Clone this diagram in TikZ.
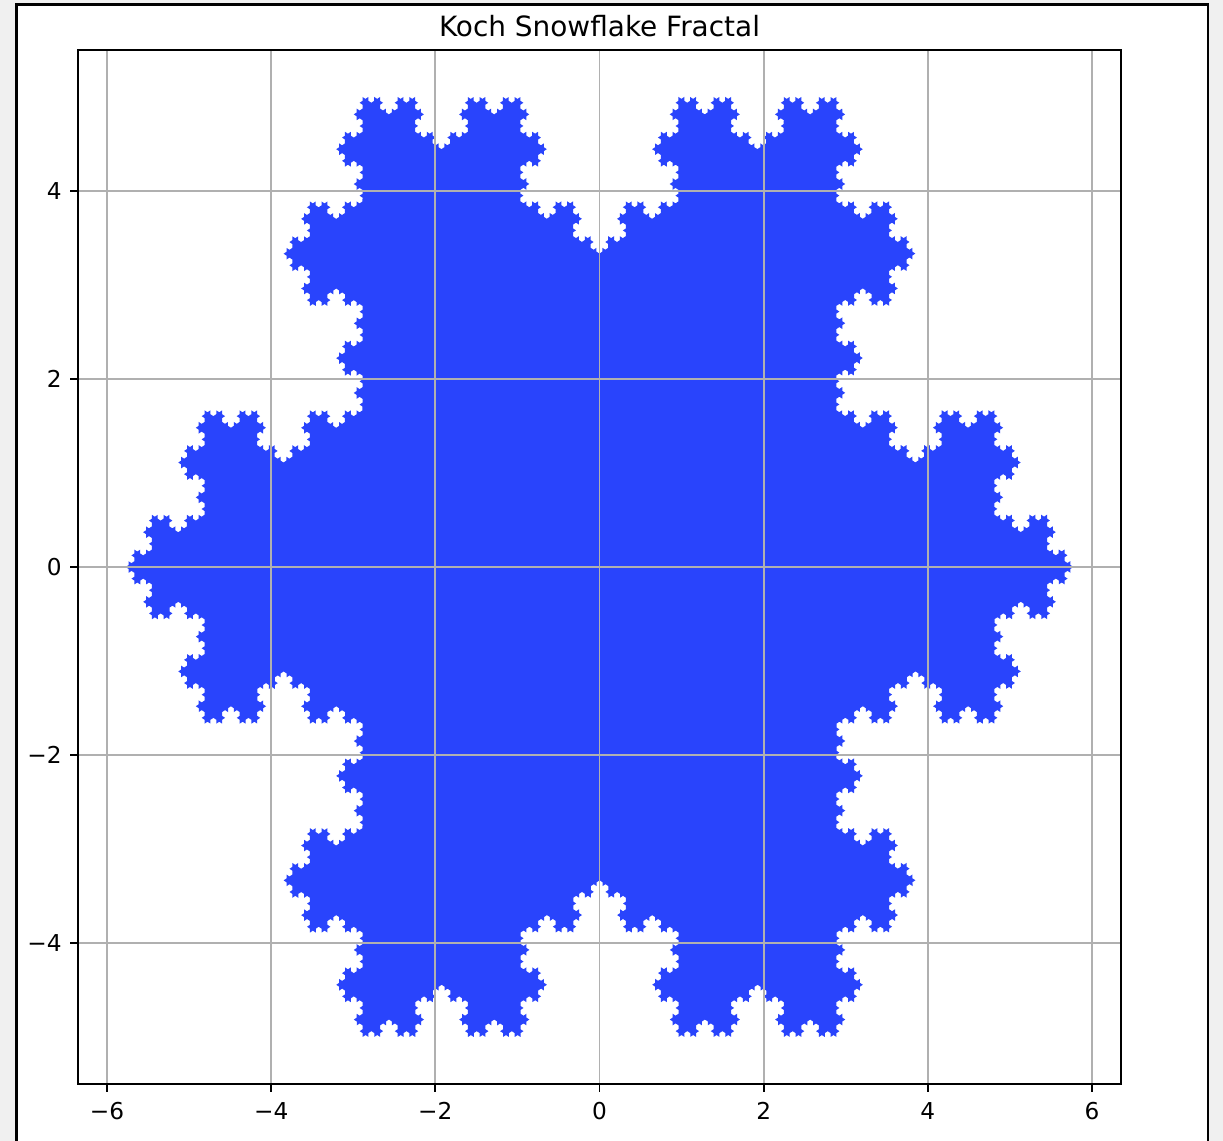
\documentclass[tikz,border=0pt]{standalone}
\usepackage{fontspec}
\setmainfont{DejaVu Sans}
\usetikzlibrary{decorations.fractals}
\definecolor{kblue}{RGB}{41,68,252}
\definecolor{gridgray}{HTML}{B0B0B0}
\definecolor{bggray}{HTML}{F0F0F0}
\tikzset{
  gridline/.style={gridgray,line width=0.85pt},
  spine/.style={black,line width=0.9pt},
  ticklabel/.style={inner sep=0pt,font=\fontsize{11.15pt}{13pt}\selectfont},
}
\begin{document}
\begin{tikzpicture}
\useasboundingbox (0,0) rectangle (587.04pt,547.68pt);
\fill[bggray] (0,0) rectangle (587.04pt,547.68pt);
\filldraw[fill=white,draw=black,line width=1pt] (7.92pt,-5pt) rectangle (579.9pt,545.52pt);
% snowflake (uniform units, stretched afterwards like the plot)
\begin{scope}[transform canvas={shift={(287.76pt,275.52pt)},yscale=1.14518}]
\fill[kblue,x=39.4pt,y=39.4pt] decorate[decoration=Koch snowflake]{decorate[decoration=Koch snowflake]{decorate[decoration=Koch snowflake]{decorate[decoration=Koch snowflake]{decorate[decoration=Koch snowflake]{
  (5.7735,0) -- (-2.88675,-5) -- (-2.88675,5) -- (5.7735,0) }}}}};
\end{scope}
\begin{scope}[shift={(287.76pt,275.52pt)},x=39.4pt,y=45.12pt]
\foreach \gx in {-6,-4,...,6} \draw[gridline] (\gx,-5.5) -- (\gx,5.5);
\foreach \gy in {-4,-2,0,2,4} \draw[gridline] (-6.3509,\gy) -- (6.3509,\gy);
\draw[spine] (-6.3509,-5.5) rectangle (6.3509,5.5);
\foreach \gx/\lab [count=\i] in {-6/−6,-4/−4,-2/−2,0/0,2/2,4/4,6/6} {
  \draw[spine] (\gx,-5.5) -- ++(0,-3.9pt);
  \node[ticklabel,anchor=base,yshift=-17.28pt] (xl\i) at (\gx,-5.5) {\lab};
}
\foreach \gy/\lab [count=\i] in {-4/−4,-2/−2,0/0,2/2,4/4} {
  \draw[spine] (-6.3509,\gy) -- ++(-3.9pt,0);
  \node[ticklabel,anchor=base east,xshift=-7.8pt,yshift=-4.06pt] (yl\i) at (-6.3509,\gy) {\lab};
}
\node[inner sep=0pt,anchor=base,yshift=6.6pt,font=\fontsize{13.4pt}{15pt}\selectfont] (title) at (0,5.5) {Koch Snowflake Fractal};
\end{scope}
\end{tikzpicture}
\end{document}
